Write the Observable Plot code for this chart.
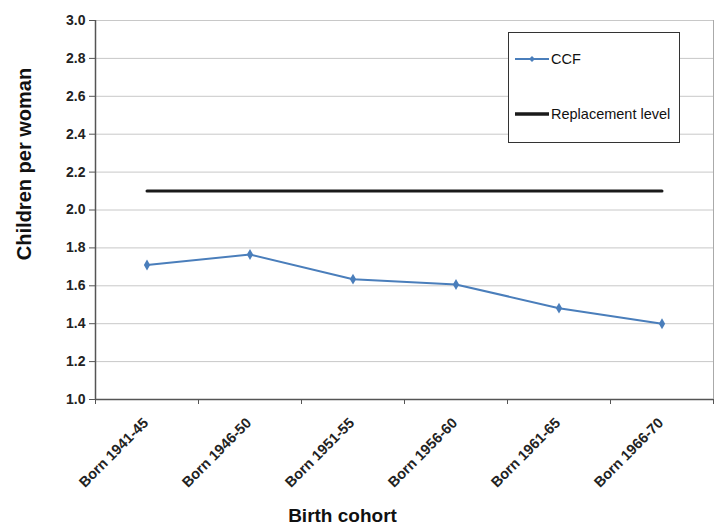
<!DOCTYPE html>
<html>
<head>
<meta charset="utf-8">
<script src="https://cdn.jsdelivr.net/npm/d3@7"></script>
<script src="https://cdn.jsdelivr.net/npm/@observablehq/plot@0.6"></script>
<style>
  html, body { margin: 0; padding: 0; background: #fff; }
  #wrap { position: relative; width: 717px; height: 529px; font-family: "Liberation Sans", Arial, sans-serif; }
  #legend { position: absolute; left: 508px; top: 32px; width: 170px; height: 109px; border: 1px solid #333; background: #fff; font-size: 14.5px; color: #111; }
  .lg { position: absolute; left: 6px; display: flex; align-items: center; }
  .lg span { margin-left: 2px; }
</style>
</head>
<body>
<div id="wrap"></div>
<script>
const cohorts = ["Born 1941-45", "Born 1946-50", "Born 1951-55", "Born 1956-60", "Born 1961-65", "Born 1966-70"];
const ccf = [1.71, 1.765, 1.635, 1.607, 1.482, 1.40];
const replacement = [2.1, 2.1, 2.1, 2.1, 2.1, 2.1];
const yTicks = [1.0, 1.2, 1.4, 1.6, 1.8, 2.0, 2.2, 2.4, 2.6, 2.8, 3.0];
const seriesNames = ["CCF", "Replacement level"];
const colors = {CCF: "#4a7ebb", "Replacement level": "#1a1a1a"};

const rows = cohorts.map((c, i) => ({cohort: c, idx: i + 0.5, ccf: ccf[i], rep: replacement[i]}));
const bounds = d3.range(cohorts.length + 1);

const chart = Plot.plot({
  width: 717,
  height: 529,
  marginLeft: 95,
  marginRight: 4,
  marginTop: 20,
  marginBottom: 130,
  style: {fontFamily: "'Liberation Sans', Arial, sans-serif", background: "#fff"},
  x: {type: "linear", domain: [0, cohorts.length], axis: null},
  y: {type: "linear", domain: [1, 3], axis: null},
  marks: [
    Plot.ruleY(yTicks.filter(d => d > 1), {stroke: "#c8c8c8", strokeWidth: 1}),
    Plot.ruleX([cohorts.length], {stroke: "#aaa", strokeWidth: 1}),
    Plot.ruleY([1], {stroke: "#555", strokeWidth: 1.5}),
    Plot.ruleX([0], {stroke: "#555", strokeWidth: 1.5}),
    Plot.axisY({ticks: yTicks, label: null, tickSize: 6, tickPadding: 4, tickFormat: d3.format(".1f"), fontSize: 14, fontWeight: "bold", fill: "#222", stroke: "#555"}),
    Plot.axisX({ticks: bounds, label: null, tickSize: 5, tickFormat: () => "", stroke: "#555"}),
    Plot.text(rows, {x: "idx", y: () => 1, text: "cohort", dy: 21, dx: -1, rotate: -45, textAnchor: "end", fontSize: 14.5, fontWeight: "bold", fill: "#222"}),
    Plot.line(rows, {x: "idx", y: "rep", stroke: colors["Replacement level"], strokeWidth: 3}),
    Plot.line(rows, {x: "idx", y: "ccf", stroke: colors.CCF, strokeWidth: 2}),
    Plot.dot(rows, {x: "idx", y: "ccf", symbol: "diamond", r: 3.3, fill: colors.CCF}),
    Plot.text(["Children per woman"], {frameAnchor: "left", textAnchor: "middle", dx: -71, dy: -46, rotate: -90, fontSize: 20, fontWeight: "bold", fill: "#111"}),
    Plot.text(["Birth cohort"], {frameAnchor: "bottom", dx: -62, dy: 122, fontSize: 19, fontWeight: "bold", fill: "#111"})
  ]
});

const wrap = document.getElementById("wrap");
wrap.appendChild(chart);

const legend = document.createElement("div");
legend.id = "legend";
legend.innerHTML = `
  <div class="lg" style="top:18px"><svg width="34" height="10"><line x1="0" x2="34" y1="5" y2="5" stroke="${colors.CCF}" stroke-width="1.8"/><path d="M17,2 L20,5 L17,8 L14,5 Z" fill="${colors.CCF}"/></svg><span>${seriesNames[0]}</span></div>
  <div class="lg" style="top:73px"><svg width="34" height="10"><line x1="0" x2="34" y1="5" y2="5" stroke="${colors["Replacement level"]}" stroke-width="3.5"/></svg><span>${seriesNames[1]}</span></div>`;
wrap.appendChild(legend);
</script>
</body>
</html>
